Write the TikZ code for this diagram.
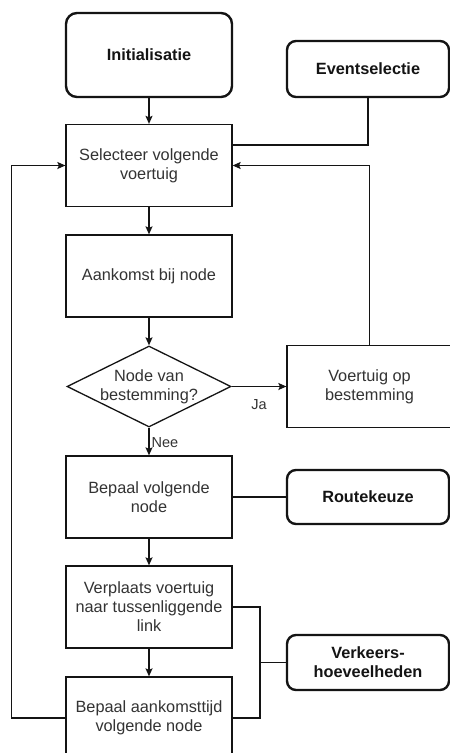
\documentclass[tikz,border=0pt]{standalone}
\usepackage{fontspec}
\setmainfont{Liberation Sans}
\usetikzlibrary{shapes.geometric,arrows.meta}
\definecolor{ink}{RGB}{20,20,20}
\definecolor{txt}{RGB}{51,51,51}

\begin{document}
\begin{tikzpicture}[x=1pt,y=-1pt,
  font=\fontsize{16.3}{19}\selectfont,
  wire/.style={draw=ink,line width=1.3pt},
  proc/.style={wire, fill=white, rectangle, minimum width=166pt, minimum height=82pt,
    align=center, text=txt, inner sep=0pt},
  module/.style={draw=ink, line width=2.4pt, rounded corners=9pt, fill=white,
    minimum width=162pt, align=center, inner sep=0pt,
    font=\fontsize{16.3}{19}\selectfont\bfseries, text=ink},
  flow/.style={wire, -{Stealth[length=8pt,width=7pt,inset=1.5pt]}},
  edgelabel/.style={font=\fontsize{14.5}{17}\selectfont, text=txt, inner sep=0pt}
]
% canvas
\fill[white] (0,0) rectangle (450,753);
\useasboundingbox (0,0) rectangle (450,753);

% main column
\node[module, minimum width=166pt, minimum height=84pt, rounded corners=11pt] (init) at (149,55) {Initialisatie};
\node[proc] (sel) at (149,165.5) {Selecteer volgende\\voertuig};
\node[proc] (ank) at (149,276) {Aankomst bij node};
\node[wire, diamond, aspect=2.02, minimum width=164pt, minimum height=81pt, inner sep=0pt,
  label={[align=center, text=txt]center:Node van\\bestemming?}] (dia) at (149,386.5) {};
\node[proc] (bep) at (149,497) {Bepaal volgende\\node};
\node[proc] (verpl) at (149,607) {Verplaats voertuig\\naar tussenliggende\\link};
\node[proc] (aank) at (149,718) {Bepaal aankomsttijd\\volgende node};

% right column
\node[module, minimum height=56pt] (event) at (368,69) {Eventselectie};
\node[proc, minimum width=165pt] (voer) at (369.5,386.5) {Voertuig op\\bestemming};
\node[module, minimum height=54pt] (route) at (368,497) {Routekeuze};
\node[module, minimum height=55pt] (verk) at (368,662.5) {Verkeers-\\hoeveelheden};

% connectors
\draw[flow] (init) -- (sel);
\draw[wire] (event.south) |- ([yshift=-21pt]sel.north east);
\draw[flow] (voer.north) |- (sel.east);
\draw[flow] (sel) -- (ank);
\draw[flow] (ank) -- (dia);
\draw[flow] (dia) -- node[edgelabel, below=12pt] {Ja} (voer);
\draw[flow] (dia) -- node[edgelabel, right=2pt, pos=0.55] {Nee} (bep);
\draw[wire] (bep) -- (route);
\draw[flow] (bep) -- (verpl);
\draw[flow] (verpl) -- (aank);
\coordinate (bus) at (260,662.5);
\draw[wire] (verpl.east) -| (bus) |- (aank.east);
\draw[wire] (bus) -- (verk.west);
\draw[flow] (aank.west) -- ++(-54,0) |- (sel.west);
\end{tikzpicture}
\end{document}
